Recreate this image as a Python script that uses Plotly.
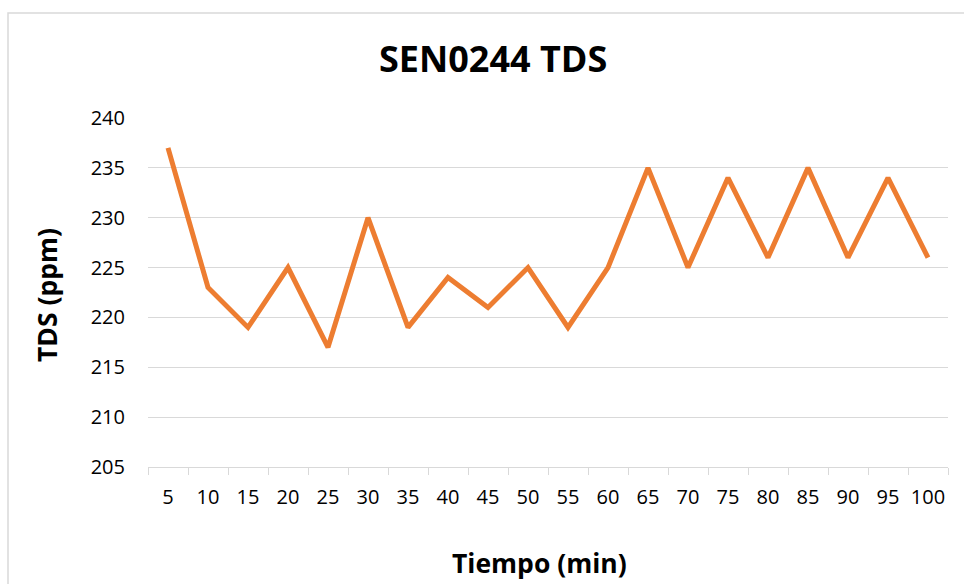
import plotly.graph_objects as go

# Datos del sensor
tiempo = ["5", "10", "15", "20", "25", "30", "35", "40", "45", "50",
          "55", "60", "65", "70", "75", "80", "85", "90", "95", "100"]
tds = [237, 223, 219, 225, 217, 230, 219, 224, 221, 225,
       219, 225, 235, 225, 234, 226, 235, 226, 234, 226]
y_ticks = [205, 210, 215, 220, 225, 230, 235, 240]

W, H = 964, 584
ml, mr, mt, mb = 148, 16, 118, 117
pw, ph = W - ml - mr, H - mt - mb

def px_x(p):
    return (p - ml) / pw

def px_y(p):
    return (H - mb - p) / ph

font = "'Open Sans', sans-serif"

def label(text, x, y, size, angle=0):
    return dict(text=text, xref="paper", yref="paper",
                x=px_x(x), y=px_y(y), xanchor="center", yanchor="middle",
                showarrow=False, textangle=angle,
                font=dict(size=size, family=font))

fig = go.Figure()
fig.add_trace(go.Scatter(
    x=tiempo, y=tds, mode="lines",
    line=dict(color="#ED7D31", width=5),
    hoverinfo="x+y",
))

fig.update_layout(
    width=W, height=H,
    margin=dict(l=ml, r=mr, t=mt, b=mb, autoexpand=False),
    paper_bgcolor="white", plot_bgcolor="white",
    showlegend=False,
    font=dict(family=font, color="#000000", size=19),
    shapes=[dict(type="rect", xref="paper", yref="paper",
                 x0=px_x(8), x1=px_x(990), y0=px_y(600), y1=px_y(13),
                 line=dict(color="#D9D9D9", width=1.5), layer="below")],
    annotations=[
        label("<b>SEN0244 TDS</b>", 493, 59, 36),
        label("<b>TDS (ppm)</b>", 47, 295, 26.5, angle=-90),
        label("<b>Tiempo (min)</b>", 539, 563, 26.5),
    ],
)

fig.update_xaxes(
    type="category", tickson="boundaries", range=[-0.5, len(tiempo) - 0.5],
    ticks="outside", ticklen=7, tickcolor="#D9D9D9", tickwidth=1,
    showline=True, linecolor="#D9D9D9", linewidth=1,
    showgrid=False, ticklabelstandoff=12, tickangle=0, automargin=False,
    tickfont=dict(size=20, family=font),
)
fig.update_yaxes(
    range=[205, 240], tickvals=y_ticks,
    showgrid=True, gridcolor="#D9D9D9", gridwidth=1,
    zeroline=False, showline=False, ticks="",
    ticklabelstandoff=22, automargin=False,
    tickfont=dict(size=20, family=font),
)

fig.write_html("out.html", config={"displayModeBar": False},
               post_script="document.body.style.margin='0';document.body.style.overflow='hidden';")
